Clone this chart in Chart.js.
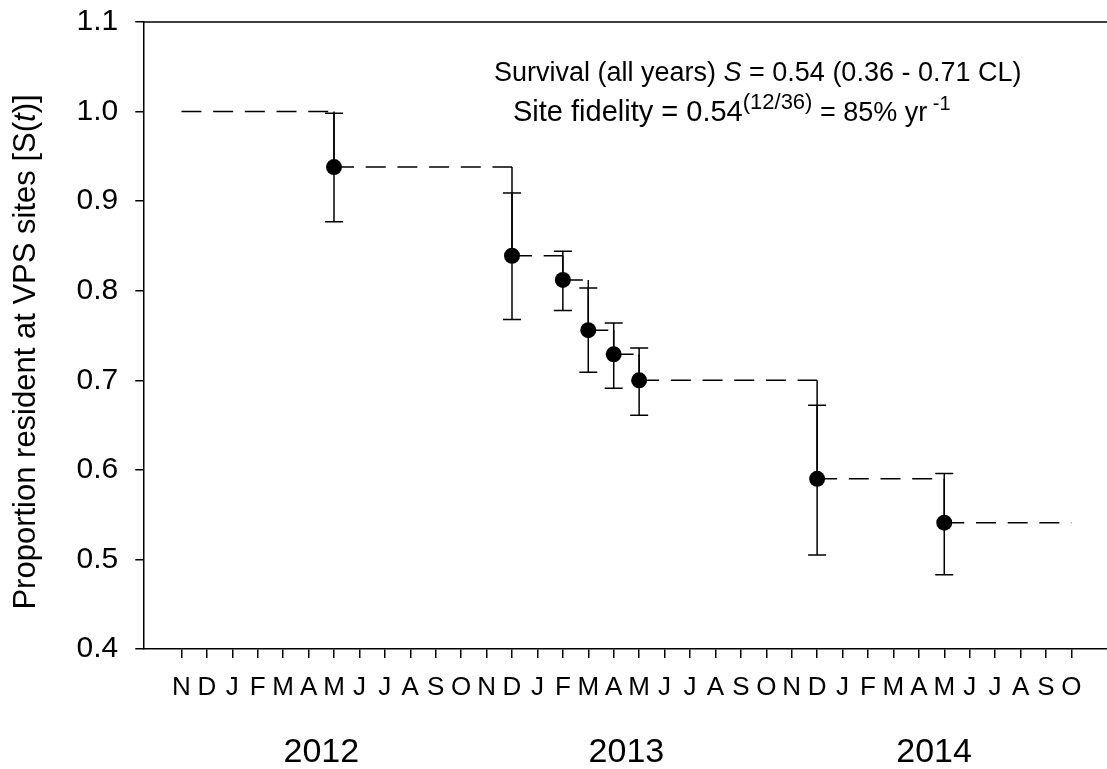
<!DOCTYPE html>
<html>
<head>
<meta charset="utf-8">
<script src="https://cdn.jsdelivr.net/npm/chart.js@4.4.1/dist/chart.umd.min.js"></script>
<style>
  html, body { margin: 0; padding: 0; background: #fff; }
  #wrap { width: 1107px; height: 769px; }
</style>
</head>
<body>
<div id="wrap"><canvas id="myChart" width="1107" height="769"></canvas></div>
<script>
// months from Nov 2011 to Oct 2014, one tick each
const monthLabels = ['N','D','J','F','M','A','M','J','J','A','S','O',
                     'N','D','J','F','M','A','M','J','J','A','S','O',
                     'N','D','J','F','M','A','M','J','J','A','S','O']
const yearLabels = ['2012', '2013', '2014']
const yearCenters = [5.5, 17.5, 29.6]

// survival estimates S(t) with confidence limits
const pointMonth = [6, 13, 15, 16, 17, 18, 25, 30]
const survival = [0.938, 0.839, 0.812, 0.756, 0.729, 0.700, 0.590, 0.541]
const lowerCL = [0.877, 0.768, 0.778, 0.709, 0.691, 0.661, 0.505, 0.483]
const upperCL = [0.998, 0.909, 0.844, 0.803, 0.764, 0.736, 0.672, 0.596]

// step line starts at 1.0 in Nov 2011 and ends Oct 2014
const startMonth = 0
const startLevel = 1.0
const endMonth = 35

const yTicks = [0.4, 0.5, 0.6, 0.7, 0.8, 0.9, 1.0, 1.1]

const FONT = "'Liberation Sans', Arial, sans-serif"

// horizontal dashed pieces of the step
let stepX = [startMonth].concat(pointMonth).concat([endMonth])
let stepLevel = [startLevel].concat(survival)
let dashData = []
for (let i = 0; i < stepLevel.length; i++) {
  dashData.push({x: stepX[i], y: stepLevel[i]})
  dashData.push({x: stepX[i + 1], y: stepLevel[i]})
  dashData.push({x: stepX[i + 1], y: null})
}

// vertical drops of the step (solid)
let dropData = []
for (let i = 0; i < pointMonth.length; i++) {
  dropData.push({x: pointMonth[i], y: stepLevel[i]})
  dropData.push({x: pointMonth[i], y: survival[i]})
  dropData.push({x: pointMonth[i], y: null})
}

let pointData = pointMonth.map((m, i) => ({x: m, y: survival[i]}))

function drawRuns(ctx, x, y, runs) {
  ctx.textBaseline = 'alphabetic'
  ctx.textAlign = 'left'
  runs.forEach(r => {
    ctx.font = r.font
    ctx.fillText(r.text, x, y + (r.dy || 0))
    x += ctx.measureText(r.text).width
  })
}

const extras = {
  id: 'extras',
  afterDatasetsDraw(chart) {
    const ctx = chart.ctx
    const xs = chart.scales.x
    const ys = chart.scales.y
    const area = chart.chartArea
    ctx.save()
    ctx.strokeStyle = '#000'
    ctx.fillStyle = '#000'
    ctx.lineWidth = 1.5

    // error bars
    for (let i = 0; i < pointMonth.length; i++) {
      let px = xs.getPixelForValue(pointMonth[i])
      let lo = ys.getPixelForValue(lowerCL[i])
      let hi = ys.getPixelForValue(upperCL[i])
      ctx.beginPath()
      ctx.moveTo(px, lo); ctx.lineTo(px, hi)
      ctx.moveTo(px - 9, lo); ctx.lineTo(px + 9, lo)
      ctx.moveTo(px - 9, hi); ctx.lineTo(px + 9, hi)
      ctx.stroke()
    }

    // top frame line
    ctx.beginPath()
    ctx.moveTo(area.left, area.top)
    ctx.lineTo(area.right, area.top)
    ctx.stroke()
    ctx.restore()
  },
  afterDraw(chart) {
    const ctx = chart.ctx
    const xs = chart.scales.x
    ctx.save()
    ctx.fillStyle = '#000'

    // year labels
    ctx.font = '34px ' + FONT
    ctx.textAlign = 'center'
    ctx.textBaseline = 'alphabetic'
    yearLabels.forEach((t, i) => {
      ctx.fillText(t, xs.getPixelForValue(yearCenters[i]), 762)
    })

    // annotation
    const n = '27px ' + FONT
    const it = 'italic 27px ' + FONT
    drawRuns(ctx, 494, 81, [
      {text: 'Survival (all years) ', font: n},
      {text: 'S', font: it},
      {text: ' = 0.54 (0.36 - 0.71 CL)', font: n}
    ])
    drawRuns(ctx, 513, 121, [
      {text: 'Site fidelity = 0.54', font: '29px ' + FONT},
      {text: '(12/36)', font: '22px ' + FONT, dy: -12},
      {text: ' = 85% yr', font: n},
      {text: ' -1', font: '20px ' + FONT, dy: -11}
    ])

    // y title, rotated
    ctx.translate(35, 352)
    ctx.rotate(-Math.PI / 2)
    const tf = '31px ' + FONT
    const ti = 'italic 31px ' + FONT
    const parts = [
      {text: 'Proportion resident at VPS sites [S(', font: tf},
      {text: 't', font: ti},
      {text: ')]', font: tf}
    ]
    let w = 0
    parts.forEach(p => { ctx.font = p.font; w += ctx.measureText(p.text).width })
    drawRuns(ctx, -w / 2, 0, parts)
    ctx.restore()
  }
}

const ctx = document.getElementById('myChart')

const config = {
  type: 'line',
  data: {
    datasets: [{
      data: dashData,
      borderColor: '#000',
      borderWidth: 1.5,
      borderDash: [20, 11.7],
      pointRadius: 0,
      spanGaps: false
    }, {
      data: dropData,
      borderColor: '#000',
      borderWidth: 1.5,
      pointRadius: 0,
      spanGaps: false
    }, {
      data: pointData,
      showLine: false,
      pointRadius: 8,
      pointBackgroundColor: '#000',
      pointBorderColor: '#000',
      pointBorderWidth: 0
    }]
  },
  options: {
    responsive: false,
    animation: false,
    devicePixelRatio: 1,
    layout: { autoPadding: false, padding: { top: 22, right: 0, left: 0, bottom: 0 } },
    plugins: {
      legend: { display: false },
      tooltip: { enabled: false }
    },
    scales: {
      x: {
        type: 'linear',
        min: -1.5,
        max: 36.4,
        afterFit(scale) {
          scale.height = 120
          scale.paddingLeft = 0
          scale.paddingRight = 0
        },
        afterBuildTicks(scale) {
          scale.ticks = monthLabels.map((m, i) => ({value: i}))
        },
        ticks: {
          autoSkip: false,
          maxRotation: 0,
          padding: 14,
          color: '#000',
          font: { family: FONT, size: 26 },
          callback: (v) => monthLabels[v]
        },
        grid: {
          drawOnChartArea: false,
          drawTicks: true,
          tickLength: 9,
          color: '#000',
          lineWidth: 1.5
        },
        border: { display: true, color: '#000', width: 1.5 }
      },
      y: {
        min: 0.4,
        max: 1.1,
        afterFit(scale) {
          scale.width = 143.3
          scale.paddingTop = 0
          scale.paddingBottom = 0
        },
        afterBuildTicks(scale) {
          scale.ticks = yTicks.map(v => ({value: v}))
        },
        ticks: {
          padding: 17,
          color: '#000',
          font: { family: FONT, size: 30 },
          callback: (v) => v.toFixed(1)
        },
        grid: {
          drawOnChartArea: false,
          drawTicks: true,
          tickLength: 8,
          color: '#000',
          lineWidth: 1.5
        },
        border: { display: true, color: '#000', width: 1.5 }
      }
    }
  },
  plugins: [extras]
}

const myChart = new Chart(ctx, config)
</script>
</body>
</html>
